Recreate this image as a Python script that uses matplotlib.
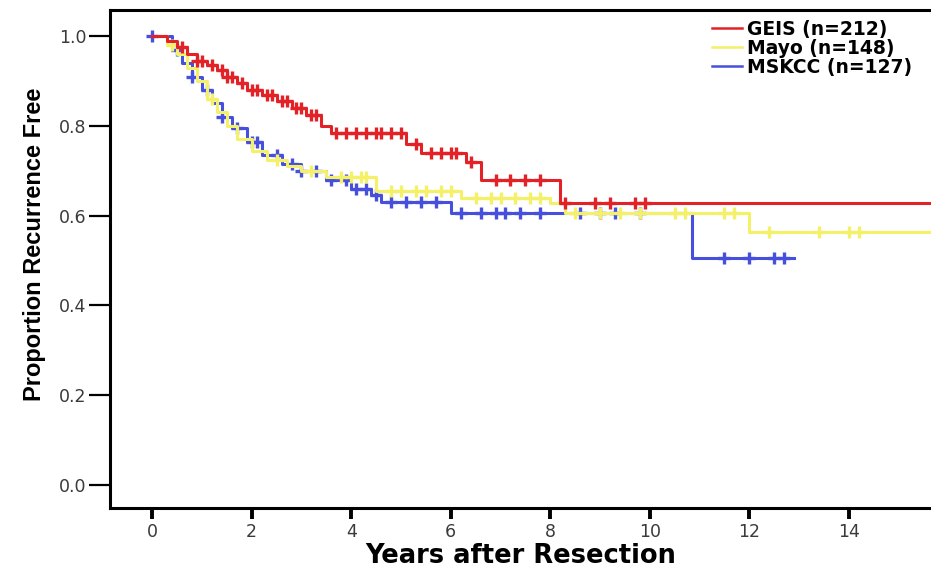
import numpy as np
import matplotlib.pyplot as plt

# Kaplan-Meier step data (time in years, survival after step)
geis_t = [0, 0.3, 0.5, 0.7, 0.9, 1.1, 1.3, 1.5, 1.7, 1.9, 2.2, 2.5, 2.8, 3.1, 3.4, 3.6, 5.1, 5.4, 6.3, 6.6, 8.2]
geis_s = [1.0, 0.99, 0.975, 0.96, 0.945, 0.935, 0.925, 0.91, 0.895, 0.88, 0.87, 0.855, 0.84, 0.825, 0.80, 0.785,
          0.76, 0.74, 0.72, 0.68, 0.628]
geis_end = 15.7
geis_cens = [0.6, 0.9, 1.0, 1.2, 1.4, 1.5, 1.6, 1.8, 2.0, 2.1, 2.3, 2.4, 2.6, 2.7, 2.9, 3.0, 3.2, 3.3, 3.7, 3.9,
             4.1, 4.3, 4.5, 4.6, 4.8, 5.0, 5.3, 5.6, 5.8, 6.0, 6.1, 6.4, 6.9, 7.2, 7.5, 7.8, 8.3, 8.9, 9.2, 9.7, 9.9]

mayo_t = [0, 0.3, 0.5, 0.7, 0.9, 1.1, 1.3, 1.5, 1.7, 2.0, 2.3, 2.7, 3.0, 3.5, 4.5, 6.2, 8.0, 8.3, 12.0]
mayo_s = [1.0, 0.98, 0.96, 0.93, 0.90, 0.86, 0.83, 0.80, 0.77, 0.745, 0.725, 0.71, 0.70, 0.686, 0.655, 0.64,
          0.628, 0.606, 0.563]
mayo_end = 15.7
mayo_cens = [0.4, 1.2, 2.5, 3.2, 3.8, 4.0, 4.2, 4.3, 4.8, 5.0, 5.3, 5.5, 5.8, 6.0, 6.5, 6.8, 7.0, 7.3, 7.6, 7.8,
             8.5, 9.0, 9.4, 9.8, 10.5, 10.7, 11.5, 11.7, 12.4, 13.4, 14.0, 14.2]

mskcc_t = [0, 0.4, 0.6, 0.8, 1.0, 1.2, 1.4, 1.6, 1.9, 2.2, 2.6, 3.0, 3.5, 4.0, 4.4, 4.6, 6.0, 10.85]
mskcc_s = [1.0, 0.97, 0.94, 0.91, 0.88, 0.85, 0.82, 0.795, 0.765, 0.735, 0.715, 0.70, 0.68, 0.66, 0.645, 0.63,
           0.606, 0.505]
mskcc_end = 12.9
mskcc_cens = [0.0, 0.5, 0.8, 1.1, 1.4, 1.7, 2.0, 2.1, 2.5, 2.8, 3.0, 3.3, 3.6, 3.9, 4.1, 4.3, 4.5, 4.8, 5.1,
              5.4, 5.7, 6.2, 6.6, 6.9, 7.1, 7.4, 7.8, 8.6, 9.0, 9.3, 9.8, 11.5, 12.0, 12.5, 12.7]

series = [
    ("GEIS (n=212)", geis_t, geis_s, geis_end, geis_cens, "#e32228"),
    ("Mayo (n=148)", mayo_t, mayo_s, mayo_end, mayo_cens, "#f4f068"),
    ("MSKCC (n=127)", mskcc_t, mskcc_s, mskcc_end, mskcc_cens, "#4650dc"),
]

fig = plt.figure(figsize=(9.31, 5.67), dpi=100)
ax = fig.add_axes([0.118, 0.104, 0.882, 0.878])

# draw in reverse so red sits on top
for label, t, s, end, cens, color in reversed(series):
    t = np.append(t, end)
    s = np.append(s, s[-1])
    ax.step(t, s, where="post", color=color, lw=2.2, label=label, zorder=3)
    cens = np.array(cens)
    idx = np.searchsorted(t, cens, side="right") - 1
    ax.plot(cens, s[idx], ls="none", marker="+", ms=9, mew=2.4, color=color, zorder=3)

ax.set_xlim(-0.85, 15.65)
ax.set_ylim(-0.052, 1.058)
ax.set_xticks(range(0, 15, 2))
ax.set_yticks([0.0, 0.2, 0.4, 0.6, 0.8, 1.0])
ax.set_yticklabels(["0.0", "0.2", "0.4", "0.6", "0.8", "1.0"])

ax.spines["right"].set_visible(False)
for sp in ["left", "bottom", "top"]:
    ax.spines[sp].set_linewidth(2.2)
ax.tick_params(axis="x", direction="out", length=8, width=2.8, labelsize=12.5, pad=3)
ax.tick_params(axis="y", direction="out", length=15, width=1.6, labelsize=12.5, pad=2)
for lab in ax.get_xticklabels() + ax.get_yticklabels():
    lab.set_family("DejaVu Sans")
    lab.set_color("#3a3a3a")

ax.set_xlabel("Years after Resection", fontsize=18.5, fontweight="bold", family="DejaVu Sans", labelpad=1)
ax.set_ylabel("Proportion Recurrence Free", fontsize=17, fontweight="bold", family="Liberation Sans", labelpad=2)
ax.yaxis.set_label_coords(-0.078, 0.53)

handles, labels = ax.get_legend_handles_labels()
leg = ax.legend(handles[::-1], labels[::-1], loc="upper right", bbox_to_anchor=(0.998, 1.015), frameon=False,
                handlelength=1.6, handletextpad=0.3, labelspacing=0.0,
                prop={"family": "DejaVu Sans", "weight": "bold", "size": 13.5})
for ln in leg.get_lines():
    ln.set_linewidth(1.8)

fig.savefig("out.png", dpi=100)
